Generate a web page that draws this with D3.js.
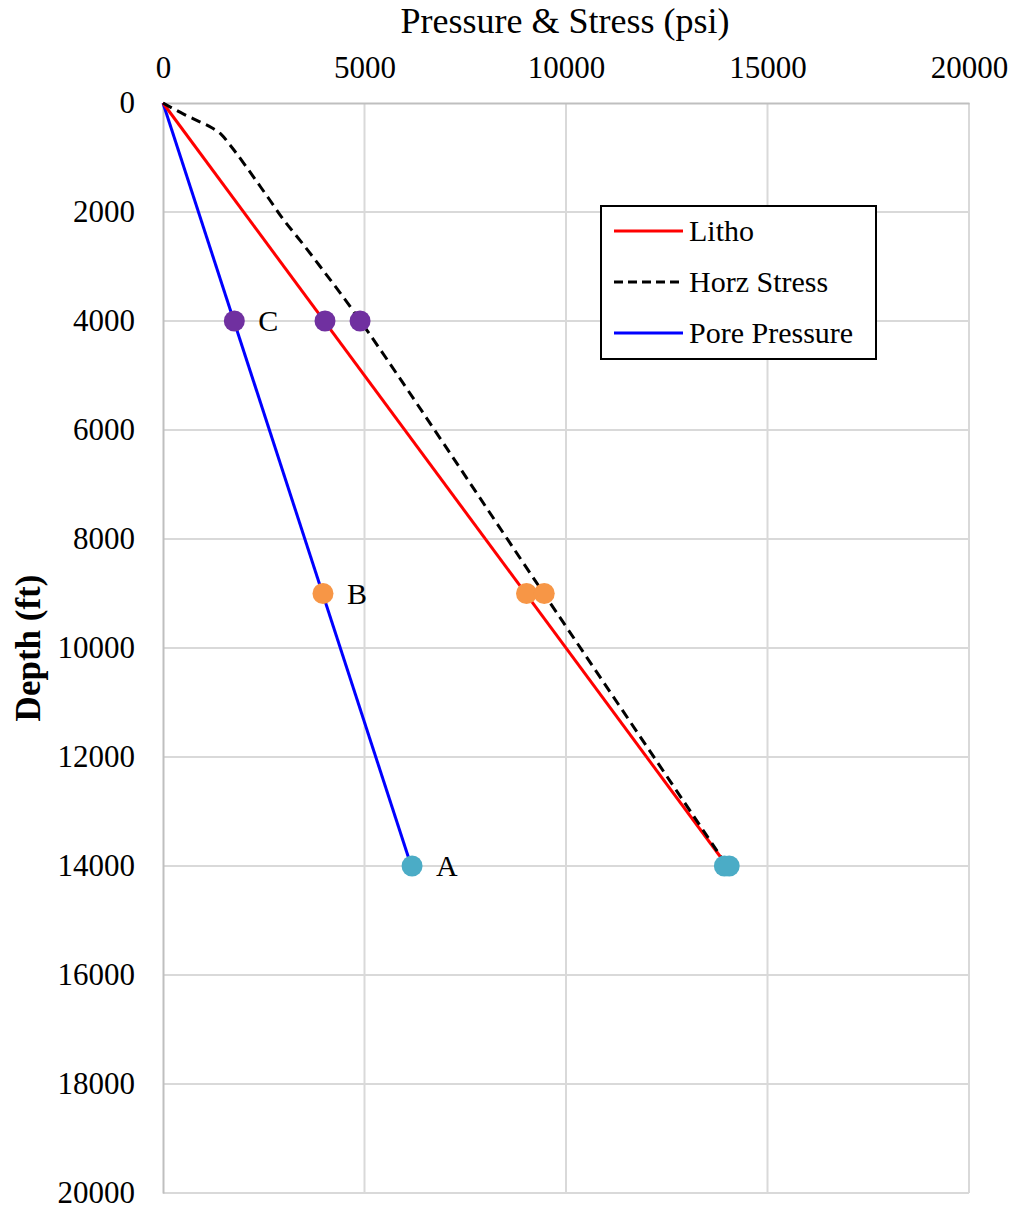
<!DOCTYPE html>
<html>
<head>
<meta charset="utf-8">
<script src="https://cdn.jsdelivr.net/npm/d3@7"></script>
<style>
  html, body { margin: 0; padding: 0; background: #fff; }
  svg, svg text { font-family: "Liberation Serif", "Times New Roman", serif; }
  svg { display: block; }
</style>
</head>
<body>
<svg id="chart" width="1014" height="1211"></svg>
<script>
// Tick values for both axes
const pressureTicks = [0, 5000, 10000, 15000, 20000];
const depthTicks = [0, 2000, 4000, 6000, 8000, 10000, 12000, 14000, 16000, 18000, 20000];

// Profiles: [pressure psi, depth ft]
const lithoProfile = [[0, 0], [14000, 14000]];
const horzProfile = [
  [0, 0], [500, 200], [900, 340], [1200, 450], [1450, 580], [1650, 760],
  [1850, 950], [2240, 1350], [2650, 1780], [3000, 2150], [3400, 2520],
  [3900, 3000], [4900, 4000], [9450, 9000], [14000, 14000]
];
const poreProfile = [[0, 0], [6160, 14000]];

// Marked points at depths A, B, C
const markerDepths = [14000, 9000, 4000];
const markerLabels = ["A", "B", "C"];
const markerColors = ["#4BACC6", "#F79646", "#7030A0"];
const poreAtMarkers = [6180, 3970, 1770];
const lithoAtMarkers = [13930, 9020, 4020];
const horzAtMarkers = [14050, 9460, 4890];

const legendNames = ["Litho", "Horz Stress", "Pore Pressure"];

const svg = d3.select("#chart");
const margin = { left: 163, top: 103, right: 45, bottom: 18 };
const W = 1014 - margin.left - margin.right;
const H = 1211 - margin.top - margin.bottom;

const x = d3.scaleLinear().domain([0, 20000]).range([0, W]);
const y = d3.scaleLinear().domain([0, 20000]).range([0, H]);

const g = svg.append("g").attr("transform", `translate(${margin.left},${margin.top})`);

// Gridlines
g.append("g").selectAll("line").data(pressureTicks.slice(1)).join("line")
  .attr("x1", d => x(d)).attr("x2", d => x(d)).attr("y1", 0).attr("y2", H)
  .attr("stroke", "#d9d9d9").attr("stroke-width", 2);
g.append("g").selectAll("line").data(depthTicks.slice(1)).join("line")
  .attr("x1", 0).attr("x2", W).attr("y1", d => y(d)).attr("y2", d => y(d))
  .attr("stroke", "#d9d9d9").attr("stroke-width", 2);

// Axes (top and left)
const xAxis = g.append("g").call(d3.axisTop(x).tickValues(pressureTicks).tickSize(0).tickPadding(25).tickFormat(d3.format("d")));
const yAxis = g.append("g").call(d3.axisLeft(y).tickValues(depthTicks).tickSize(0).tickPadding(28).tickFormat(d3.format("d")));
[xAxis, yAxis].forEach(a => {
  a.attr("font-family", null).attr("font-size", null);
  a.select(".domain").attr("stroke", "#bfbfbf").attr("stroke-width", 2);
  a.selectAll("text")
    .style("font-family", "'Liberation Serif', 'Times New Roman', serif")
    .style("font-size", "31px").attr("fill", "#000");
});

// Axis titles
svg.append("text").attr("x", 565).attr("y", 33)
  .attr("text-anchor", "middle").style("font-size", "36px").text("Pressure & Stress (psi)");
svg.append("text").attr("transform", `translate(40,${margin.top + y(10000)}) rotate(-90)`)
  .attr("text-anchor", "middle").style("font-size", "35px").attr("font-weight", "bold")
  .text("Depth (ft)");

// Profiles
const smooth = d3.line().x(d => x(d[0])).y(d => y(d[1])).curve(d3.curveCatmullRom.alpha(0.5));
const straight = d3.line().x(d => x(d[0])).y(d => y(d[1]));
g.append("path").datum(poreProfile).attr("d", straight)
  .attr("fill", "none").attr("stroke", "#0000FF").attr("stroke-width", 3);
g.append("path").datum(lithoProfile).attr("d", straight)
  .attr("fill", "none").attr("stroke", "#FF0000").attr("stroke-width", 3);
g.append("path").datum(horzProfile).attr("d", smooth)
  .attr("fill", "none").attr("stroke", "#000").attr("stroke-width", 3)
  .attr("stroke-dasharray", "10,6");

// Markers
const markers = [];
markerDepths.forEach((dep, i) => {
  markers.push({ p: poreAtMarkers[i], d: dep, c: markerColors[i] });
  markers.push({ p: lithoAtMarkers[i], d: dep, c: markerColors[i] });
  markers.push({ p: horzAtMarkers[i], d: dep, c: markerColors[i] });
});
g.append("g").selectAll("circle").data(markers).join("circle")
  .attr("cx", d => x(d.p)).attr("cy", d => y(d.d)).attr("r", 10.5)
  .attr("fill", d => d.c);

g.append("g").selectAll("text").data(markerDepths).join("text")
  .attr("x", (d, i) => x(poreAtMarkers[i]) + 24).attr("y", d => y(d) + 10)
  .style("font-size", "30px").text((d, i) => markerLabels[i]);

// Legend
const legend = svg.append("g").attr("transform", "translate(601,206)");
legend.append("rect").attr("width", 275).attr("height", 153)
  .attr("fill", "#fff").attr("stroke", "#000").attr("stroke-width", 2);
const legendStyles = [
  { c: "#FF0000", dash: null },
  { c: "#000", dash: "9,5" },
  { c: "#0000FF", dash: null }
];
legendNames.forEach((name, i) => {
  const yy = 25 + i * 51;
  legend.append("line").attr("x1", 13).attr("x2", 82).attr("y1", yy).attr("y2", yy)
    .attr("stroke", legendStyles[i].c).attr("stroke-width", 3)
    .attr("stroke-dasharray", legendStyles[i].dash);
  legend.append("text").attr("x", 88).attr("y", yy + 10).style("font-size", "30px").text(name);
});
</script>
</body>
</html>
